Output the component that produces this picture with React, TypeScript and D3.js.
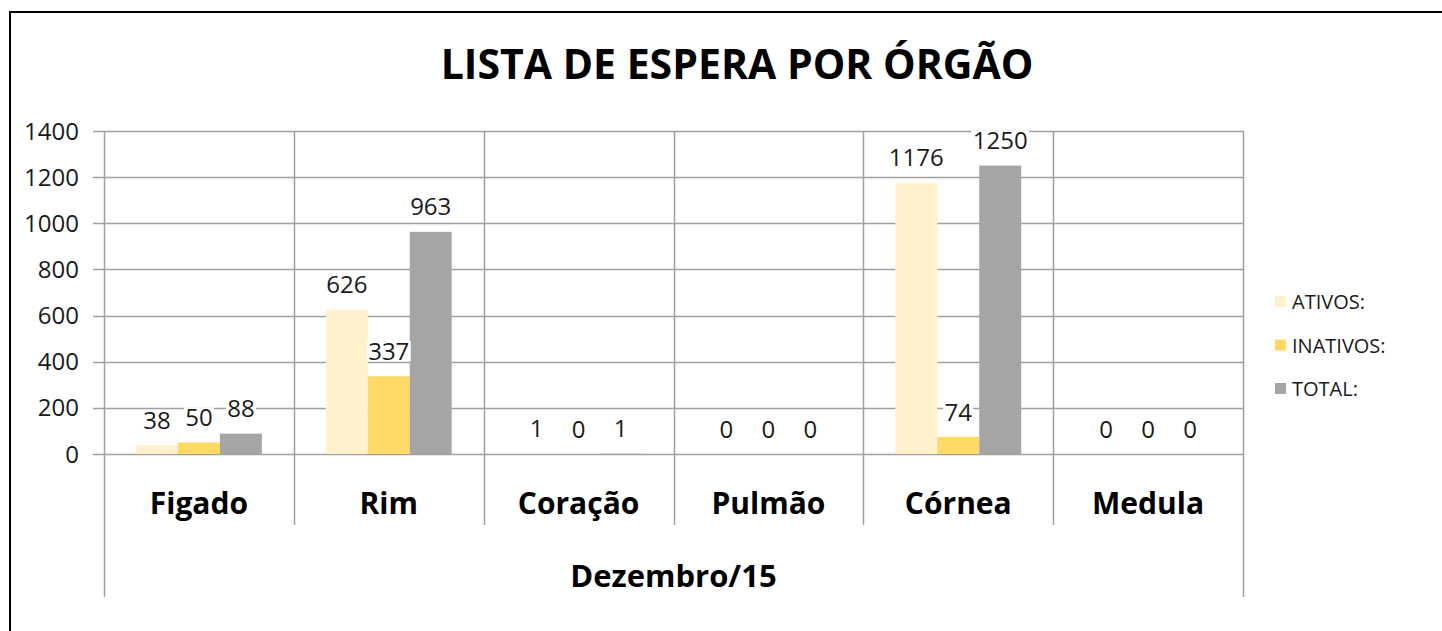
import * as d3 from "d3";
import React, { useEffect, useRef } from "react";

// chart data
const categories = ["Figado", "Rim", "Coração", "Pulmão", "Córnea", "Medula"];
const seriesNames = ["ATIVOS:", "INATIVOS:", "TOTAL:"];
const ativos = [38, 626, 1, 0, 1176, 0];
const inativos = [50, 337, 0, 0, 74, 0];
const total = [88, 963, 1, 0, 1250, 0];
const yTicks = [0, 200, 400, 600, 800, 1000, 1200, 1400];
const seriesColors = ["#FFF2CC", "#FFD966", "#A5A5A5"];

const FONT = "'Open Sans', 'Liberation Sans', sans-serif";

const App: React.FC = () => {
  const svgRef = useRef<SVGSVGElement>(null);

  useEffect(() => {
    if (!svgRef.current) return;
    const width = 1442;
    const height = 631;
    const plot = { left: 104, right: 1243, top: 131, bottom: 454 };

    const svg = d3.select(svgRef.current);
    svg.selectAll("*").remove();
    svg.attr("width", width).attr("height", height);

    svg
      .append("rect")
      .attr("width", width)
      .attr("height", height)
      .attr("fill", "#fff");

    // outer frame
    svg
      .append("rect")
      .attr("x", 10)
      .attr("y", 12)
      .attr("width", width + 20)
      .attr("height", height + 20)
      .attr("fill", "none")
      .attr("stroke", "#000")
      .attr("stroke-width", 2);

    const x = d3
      .scaleBand<string>()
      .domain(categories)
      .range([plot.left, plot.right])
      .padding(0);
    const xSub = d3
      .scaleBand<string>()
      .domain(seriesNames)
      .range([0, x.bandwidth()])
      .paddingInner(0)
      .paddingOuter(0.762);
    const y = d3.scaleLinear().domain([0, 1400]).range([plot.bottom, plot.top]);

    const gridColor = "#a0a0a0";

    // horizontal gridlines + ticks
    svg
      .append("g")
      .selectAll("line")
      .data(yTicks)
      .join("line")
      .attr("x1", plot.left - 11)
      .attr("x2", plot.right)
      .attr("y1", (d) => Math.round(y(d)) + 0.5)
      .attr("y2", (d) => Math.round(y(d)) + 0.5)
      .attr("stroke", gridColor)
      .attr("stroke-width", 1.5);

    // vertical category separators
    const bounds = [...categories.map((c) => x(c) as number), plot.right];
    svg
      .append("g")
      .selectAll("line")
      .data(bounds)
      .join("line")
      .attr("x1", (d) => Math.round(d) + 0.5)
      .attr("x2", (d) => Math.round(d) + 0.5)
      .attr("y1", plot.top)
      .attr("y2", (d, i) => (i === 0 || i === bounds.length - 1 ? 597 : 525))
      .attr("stroke", gridColor)
      .attr("stroke-width", 1.5);

    // y tick labels
    svg
      .append("g")
      .selectAll("text")
      .data(yTicks)
      .join("text")
      .attr("x", 79)
      .attr("y", (d) => y(d))
      .attr("dy", "0.36em")
      .attr("text-anchor", "end")
      .attr("font-family", FONT)
      .attr("font-size", 24)
      .attr("fill", "#1a1a1a")
      .text((d) => d);

    // bars
    const seriesData = [ativos, inativos, total];
    const rows = seriesData.flatMap((vals, si) =>
      vals.map((v, ci) => ({ s: seriesNames[si], si, c: categories[ci], v })),
    );

    svg
      .append("g")
      .selectAll("rect")
      .data(rows)
      .join("rect")
      .attr("x", (d) => (x(d.c) as number) + (xSub(d.s) as number))
      .attr("width", xSub.bandwidth())
      .attr("y", (d) => y(d.v))
      .attr("height", (d) => Math.max(0, y(0) - y(d.v)))
      .attr("fill", (d) => seriesColors[d.si]);

    // data labels
    const labels = svg
      .append("g")
      .selectAll("g")
      .data(rows)
      .join("g")
      .attr(
        "transform",
        (d) =>
          `translate(${(x(d.c) as number) + (xSub(d.s) as number) + xSub.bandwidth() / 2},${y(d.v) - 25})`,
      );
    labels
      .append("rect")
      .attr("x", (d) => -String(d.v).length * 7 - 1)
      .attr("y", -10)
      .attr("width", (d) => String(d.v).length * 14 + 2)
      .attr("height", 20)
      .attr("fill", "#fff");
    labels
      .append("text")
      .attr("text-anchor", "middle")
      .attr("dy", "0.36em")
      .attr("font-family", FONT)
      .attr("font-size", 24)
      .attr("fill", "#1a1a1a")
      .text((d) => d.v);

    // category labels
    svg
      .append("g")
      .selectAll("text")
      .data(categories)
      .join("text")
      .attr("x", (d) => (x(d) as number) + x.bandwidth() / 2)
      .attr("y", 503)
      .attr("dy", "0.36em")
      .attr("text-anchor", "middle")
      .attr("font-family", FONT)
      .attr("font-weight", "bold")
      .attr("font-size", 30)
      .attr("fill", "#000")
      .text((d) => d);

    // group label
    svg
      .append("text")
      .attr("x", (plot.left + plot.right) / 2)
      .attr("y", 576)
      .attr("dy", "0.36em")
      .attr("text-anchor", "middle")
      .attr("font-family", FONT)
      .attr("font-weight", "bold")
      .attr("font-size", 31)
      .attr("fill", "#000")
      .text("Dezembro/15");

    // title
    svg
      .append("text")
      .attr("x", 737)
      .attr("y", 64)
      .attr("dy", "0.36em")
      .attr("text-anchor", "middle")
      .attr("font-family", FONT)
      .attr("font-weight", "bold")
      .attr("font-size", 41)
      .attr("fill", "#000")
      .text("LISTA DE ESPERA POR ÓRGÃO");

    // legend
    const legend = svg
      .append("g")
      .selectAll("g")
      .data(seriesNames)
      .join("g")
      .attr("transform", (d, i) => `translate(1275,${302 + i * 43.5})`);
    legend
      .append("rect")
      .attr("x", 0)
      .attr("y", -6)
      .attr("width", 11)
      .attr("height", 11)
      .attr("fill", (d, i) => seriesColors[i]);
    legend
      .append("text")
      .attr("x", 17)
      .attr("dy", "0.36em")
      .attr("font-family", FONT)
      .attr("font-size", 20)
      .attr("fill", "#1a1a1a")
      .text((d) => d);
  }, []);

  return (
    <svg
      ref={svgRef}
      style={{ position: "absolute", left: 0, top: 0, display: "block" }}
    />
  );
};

export default App;
